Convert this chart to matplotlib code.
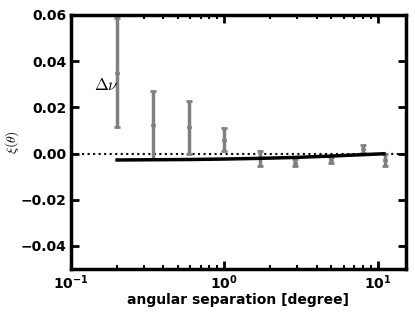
import matplotlib
matplotlib.use("Agg")
import matplotlib.pyplot as plt

# angular bins [degree] and measured xi(theta)
theta = [0.2, 0.345, 0.59, 1.0, 1.72, 2.9, 5.0, 8.0, 11.2]
xi = [0.035, 0.0125, 0.0114, 0.006, -0.002, -0.004, -0.0028, 0.0019, -0.0028]
xi_err = [0.0235, 0.0147, 0.0114, 0.005, 0.0033, 0.0015, 0.0011, 0.0016, 0.0024]

# model curve
theta_model = [0.2, 0.35, 0.6, 1.0, 1.7, 2.9, 5.0, 8.0, 11.0]
xi_model = [-0.0028, -0.0027, -0.0026, -0.0024, -0.0021, -0.0017, -0.0011, -0.0005, -0.0001]

plt.rcParams['font.weight'] = 'bold'
plt.rcParams['axes.linewidth'] = 2.5
plt.rcParams['mathtext.fontset'] = 'cm'

fig = plt.figure(figsize=(4.15, 3.12), dpi=100)
ax = fig.add_axes([0.171, 0.138, 0.807, 0.814])

ax.axhline(0, color='k', ls=':', lw=1.5, zorder=1)
ax.errorbar(theta, xi, yerr=xi_err, fmt='o', color='gray', ms=2.5,
            elinewidth=2.5, capsize=2, capthick=2, zorder=2)
ax.plot(theta_model, xi_model, color='k', lw=2.5, zorder=3)

ax.text(0.142, 0.0295, r'$\Delta\nu$', fontsize=12, va='center')

ax.set_xscale('log')
ax.set_xlim(0.1, 15.3)
ax.set_ylim(-0.05, 0.06)
ax.set_yticks([-0.04, -0.02, 0.0, 0.02, 0.04, 0.06])
ax.set_yticklabels(['\u22120.04', '\u22120.02', '0.00', '0.02', '0.04', '0.06'])

ax.tick_params(which='both', direction='in', top=True, right=True,
               labelsize=10, width=1.5)
ax.tick_params(which='major', length=6, width=2, pad=3)
ax.tick_params(which='minor', length=3)

ax.set_xlabel('angular separation [degree]', fontsize=10, fontweight='bold',
              labelpad=1)
ax.set_ylabel(r'$\xi(\theta)$', fontsize=10)
ax.yaxis.set_label_coords(-0.15, 0.5)

fig.savefig('out.png', dpi=100)
